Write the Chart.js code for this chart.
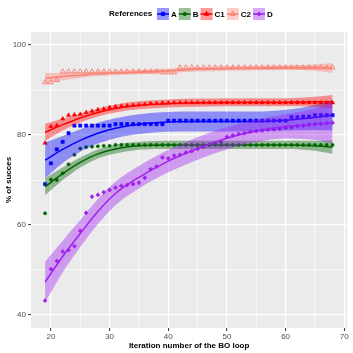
<!DOCTYPE html>
<html>
<head>
<meta charset="utf-8">
<script src="https://cdn.jsdelivr.net/npm/chart.js@4"></script>
<style>
  html, body { margin: 0; padding: 0; background: #fff; }
</style>
</head>
<body>
<canvas id="chart" width="353" height="353"></canvas>
<script>
// iterations of the BO loop
const iterations = [19, 20, 21, 22, 23, 24, 25, 26, 27, 28, 29, 30, 31, 32, 33, 34, 35, 36, 37, 38,
  39, 40, 41, 42, 43, 44, 45, 46, 47, 48, 49, 50, 51, 52, 53, 54, 55, 56, 57, 58,
  59, 60, 61, 62, 63, 64, 65, 66, 67, 68];

// % of success per reference
const succA = [69.1, 73.7, 76.8, 78.5, 80.4, 82.1, 82.1, 82.1, 82.1, 82.1, 82.1, 82.1, 82.4, 82.4, 82.4, 82.4, 82.4, 82.4, 82.4, 82.4,
  82.4, 83.2, 83.2, 83.2, 83.2, 83.2, 83.2, 83.2, 83.2, 83.2, 83.2, 83.2, 83.2, 83.2, 83.2, 83.2, 83.2, 83.2, 83.2, 83.2,
  83.2, 83.2, 84.0, 84.0, 84.1, 84.1, 84.4, 84.4, 84.4, 84.4];
const succB = [62.6, 70.1, 70.0, 71.5, 73.5, 75.6, 77.0, 77.3, 77.4, 77.5, 77.6, 77.6, 77.8, 77.8, 77.8, 77.8, 77.8, 77.8, 77.8, 77.8,
  77.8, 77.8, 77.8, 77.8, 77.8, 77.8, 77.8, 77.8, 77.8, 77.8, 77.8, 77.8, 77.8, 77.8, 77.8, 77.8, 77.8, 77.8, 77.8, 77.8,
  77.8, 77.8, 77.8, 77.8, 77.8, 77.8, 77.8, 77.8, 77.8, 77.8];
const succC1 = [78.2, 81.9, 82.1, 83.6, 84.4, 84.5, 84.6, 85.0, 85.3, 85.6, 85.8, 86.1, 86.3, 86.4, 86.5, 86.6, 86.7, 86.8, 87.0, 87.0,
  87.1, 87.1, 87.2, 87.2, 87.2, 87.2, 87.2, 87.2, 87.2, 87.2, 87.2, 87.2, 87.2, 87.2, 87.2, 87.2, 87.2, 87.2, 87.2, 87.2,
  87.2, 87.2, 87.2, 87.2, 87.2, 87.2, 87.2, 87.2, 87.2, 87.2];
const succC2 = [91.7, 91.7, 92.2, 94.1, 94.1, 94.1, 94.1, 94.1, 94.1, 94.1, 94.1, 94.1, 94.1, 94.1, 94.1, 94.1, 94.1, 94.1, 94.1, 94.1,
  93.9, 93.9, 93.9, 95.0, 95.0, 95.0, 95.0, 95.0, 95.0, 95.0, 95.0, 95.0, 95.0, 95.0, 95.0, 95.0, 95.0, 95.0, 95.0, 95.0,
  95.0, 95.0, 95.0, 95.0, 95.0, 95.0, 95.0, 95.0, 95.0, 95.0];
const succD = [43.2, 50.2, 52.0, 54.1, 54.4, 55.3, 58.7, 62.7, 66.3, 66.7, 67.3, 67.8, 68.3, 68.7, 68.9, 69.1, 69.4, 70.5, 72.4, 73.0,
  75.0, 74.8, 75.4, 75.6, 76.1, 76.4, 76.9, 77.4, 77.8, 78.1, 78.4, 79.6, 79.9, 80.2, 80.4, 80.7, 80.9, 81.0, 81.2, 81.3,
  81.4, 81.6, 81.7, 82.0, 82.1, 82.3, 82.4, 82.5, 82.6, 82.7];

// smoothed fits with their confidence bands, read at these iterations
const fitX = [19, 22, 25, 28, 31, 35, 40, 45, 50, 55, 60, 65, 68];
const fitA = [74.4, 76.8, 78.8, 80.4, 81.5, 82.4, 82.9, 83.0, 83.0, 83.0, 83.3, 83.9, 84.4];
const upA = [78.4, 79.8, 81.3, 82.7, 83.7, 84.6, 85.1, 85.2, 85.2, 85.2, 85.6, 86.7, 87.8];
const loA = [70.4, 73.8, 76.3, 78.1, 79.3, 80.2, 80.7, 80.8, 80.8, 80.8, 81.0, 81.1, 81.0];
const fitB = [68.5, 71.4, 73.9, 75.8, 76.9, 77.6, 77.8, 77.8, 77.8, 77.8, 77.8, 77.6, 77.3];
const upB = [70.4, 72.8, 75.0, 76.8, 77.9, 78.5, 78.7, 78.7, 78.7, 78.7, 78.7, 78.7, 78.8];
const loB = [66.6, 70.0, 72.8, 74.8, 75.9, 76.7, 76.9, 76.9, 76.9, 76.9, 76.9, 76.5, 75.8];
const fitC1 = [80.6, 82.3, 83.8, 85.0, 85.9, 86.6, 87.0, 87.2, 87.3, 87.3, 87.3, 87.4, 87.4];
const upC1 = [82.5, 83.6, 84.8, 85.9, 86.8, 87.5, 87.9, 88.1, 88.2, 88.2, 88.2, 88.5, 88.9];
const loC1 = [78.7, 81.0, 82.8, 84.1, 85.0, 85.7, 86.1, 86.3, 86.4, 86.4, 86.4, 86.3, 85.9];
const fitC2 = [92.6, 93.0, 93.3, 93.6, 93.8, 94.0, 94.3, 94.6, 94.8, 94.9, 95.0, 95.0, 94.9];
const upC2 = [93.8, 93.8, 93.9, 94.1, 94.3, 94.5, 94.8, 95.1, 95.3, 95.4, 95.5, 95.7, 96.0];
const loC2 = [91.4, 92.2, 92.7, 93.1, 93.3, 93.5, 93.8, 94.1, 94.3, 94.4, 94.5, 94.3, 93.8];
const fitD = [47.3, 53.0, 58.1, 63.0, 67.0, 70.6, 74.2, 77.0, 79.3, 80.9, 81.9, 82.4, 82.7];
const upD = [51.8, 56.5, 61.1, 65.8, 69.6, 73.1, 76.7, 79.5, 81.8, 83.4, 84.6, 85.9, 87.2];
const loD = [42.8, 49.5, 55.1, 60.2, 64.4, 68.1, 71.7, 74.5, 76.8, 78.4, 79.2, 78.9, 78.2];

const refNames = ["A", "B", "C1", "C2", "D"];
const xTicks = [20, 25, 30, 35, 40, 45, 50, 55, 60, 65, 70];
const yTicks = [40, 50, 60, 70, 80, 90, 100];

const refs = [
  { color: "#0000FF", fill: "rgba(0,0,255,0.4)", style: "rect", radius: 2.3, open: false, pts: succA, fit: fitA, up: upA, lo: loA },
  { color: "#006400", fill: "rgba(0,100,0,0.4)", style: "circle", radius: 1.6, open: false, pts: succB, fit: fitB, up: upB, lo: loB },
  { color: "#FF0000", fill: "rgba(255,0,0,0.4)", style: "triangle", radius: 2.5, open: false, pts: succC1, fit: fitC1, up: upC1, lo: loC1 },
  { color: "#FA8072", fill: "rgba(250,128,114,0.4)", style: "triangle", radius: 2.8, open: true, pts: succC2, fit: fitC2, up: upC2, lo: loC2 },
  { color: "#A020F0", fill: "rgba(160,32,240,0.4)", style: "cross", radius: 2, open: false, pts: succD, fit: fitD, up: upD, lo: loD },
];

const toXY = (xs, ys) => xs.map((x, i) => ({ x: x, y: ys[i] }));

const datasets = [];
refs.forEach((r, k) => {
  const base = 2 * (refs.length - k);
  // band: upper filled down to lower
  datasets.push({
    label: refNames[k] + " band", data: toXY(fitX, r.up), showLine: true, fill: "+1",
    backgroundColor: r.fill, borderWidth: 0, pointRadius: 0, cubicInterpolationMode: "monotone", order: base,
  });
  datasets.push({
    label: refNames[k] + " low", data: toXY(fitX, r.lo), showLine: true, fill: false,
    borderWidth: 0, pointRadius: 0, cubicInterpolationMode: "monotone", order: base,
  });
  datasets.push({
    label: refNames[k] + " fit", data: toXY(fitX, r.fit), showLine: true, fill: false,
    borderColor: r.color, borderWidth: 1.5, pointRadius: 0, cubicInterpolationMode: "monotone", order: base - 1,
  });
  datasets.push({
    label: refNames[k], data: toXY(iterations, r.pts), showLine: false,
    pointStyle: r.style, pointRadius: r.radius, borderColor: r.color,
    backgroundColor: r.open ? "rgba(0,0,0,0)" : r.color,
    borderWidth: r.style === "cross" ? 1.8 : (r.open ? 1 : 0.5), order: 20,
  });
});

const panelBg = {
  id: "panelBg",
  beforeDraw(chart) {
    const { ctx, chartArea: a } = chart;
    ctx.save();
    ctx.fillStyle = "#EBEBEB";
    ctx.fillRect(a.left, a.top, a.right - a.left, a.bottom - a.top);
    ctx.restore();
  },
};

// ggplot-like legend on top
const topLegend = {
  id: "topLegend",
  afterDraw(chart) {
    const ctx = chart.ctx;
    const cy = 14;
    ctx.save();
    ctx.font = "bold 8px 'Liberation Sans', Arial, sans-serif";
    ctx.fillStyle = "#000";
    ctx.textBaseline = "middle";
    ctx.textAlign = "left";
    ctx.fillText("References", 109, cy);
    let x = 157;
    refs.forEach((r, k) => {
      ctx.fillStyle = "#fff";
      ctx.fillRect(x, cy - 6, 12, 12);
      ctx.fillStyle = r.fill;
      ctx.fillRect(x, cy - 6, 12, 12);
      ctx.strokeStyle = r.color;
      ctx.lineWidth = 1.5;
      ctx.beginPath();
      ctx.moveTo(x, cy);
      ctx.lineTo(x + 12, cy);
      ctx.stroke();
      ctx.fillStyle = r.open ? "rgba(0,0,0,0)" : r.color;
      ctx.lineWidth = r.style === "cross" ? 1.8 : 1;
      Chart.helpers.drawPoint(ctx, { pointStyle: r.style, radius: r.radius, rotation: 0, borderWidth: ctx.lineWidth }, x + 6, cy);
      ctx.fillStyle = "#000";
      ctx.fillText(refNames[k], x + 14, cy + 0.5);
      x += 14 + ctx.measureText(refNames[k]).width + 2;
    });
    ctx.restore();
  },
};

const tickFont = { family: "'Liberation Sans', Arial, sans-serif", size: 8 };
const titleFont = { family: "'Liberation Sans', Arial, sans-serif", size: 8, weight: "bold" };

new Chart(document.getElementById("chart"), {
  type: "scatter",
  data: { datasets: datasets },
  options: {
    responsive: false,
    animation: false,
    devicePixelRatio: 1,
    layout: { padding: { top: 32, right: 4, left: 0, bottom: 0 } },
    plugins: { legend: { display: false }, tooltip: { enabled: false } },
    scales: {
      x: {
        type: "linear", min: 16.6, max: 70.5,
        afterBuildTicks: (s) => { s.ticks = xTicks.map((v) => ({ value: v })); },
        afterFit: (s) => { s.height = 25; },
        ticks: { autoSkip: false, maxRotation: 0, padding: 1, color: "#4D4D4D", font: tickFont,
          callback: (v) => (v % 10 === 0 ? v : "") },
        grid: {
          color: "#FFFFFF",
          lineWidth: (c) => (c.tick && c.tick.value % 10 === 0 ? 1.2 : 0.6),
          tickColor: (c) => (c.tick && c.tick.value % 10 === 0 ? "#333333" : "rgba(0,0,0,0)"),
          tickLength: 3, tickWidth: 1,
        },
        border: { display: false },
        title: { display: true, text: "Iteration number of the BO loop", color: "#000", font: titleFont, padding: { top: 0, bottom: 2 } },
      },
      y: {
        type: "linear", min: 37.1, max: 102.9,
        afterBuildTicks: (s) => { s.ticks = yTicks.map((v) => ({ value: v })); },
        afterFit: (s) => { s.width = 31; },
        ticks: { autoSkip: false, padding: 2, color: "#4D4D4D", font: tickFont,
          callback: (v) => (v % 20 === 0 ? v : "") },
        grid: {
          color: "#FFFFFF",
          lineWidth: (c) => (c.tick && c.tick.value % 20 === 0 ? 1.2 : 0.6),
          tickColor: (c) => (c.tick && c.tick.value % 20 === 0 ? "#333333" : "rgba(0,0,0,0)"),
          tickLength: 3, tickWidth: 1,
        },
        border: { display: false },
        title: { display: true, text: "% of succes", color: "#000", font: titleFont, padding: { top: 4, bottom: 0 } },
      },
    },
  },
  plugins: [panelBg, topLegend],
});
</script>
</body>
</html>
